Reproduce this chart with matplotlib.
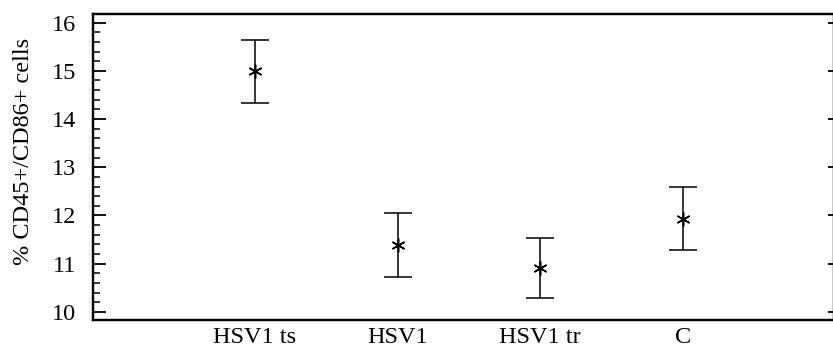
import numpy as np
import matplotlib
matplotlib.use('Agg')
import matplotlib.pyplot as plt
from matplotlib.ticker import MultipleLocator

groups = ['HSV1 ts', 'HSV1', 'HSV1 tr', 'C']
means = [14.99, 11.39, 10.91, 11.93]
errs = [0.65, 0.66, 0.63, 0.65]

plt.rcParams['font.family'] = ['Liberation Serif', 'DejaVu Serif']
plt.rcParams['font.size'] = 17.5

fig = plt.figure(figsize=(8.33, 3.49), dpi=100)
ax = fig.add_axes([0.1116, 0.083, 0.8894, 0.877])

x = np.arange(1, len(groups) + 1)
ax.errorbar(x, means, yerr=errs, fmt='none', ecolor='black',
            elinewidth=1.1, capsize=10.4, capthick=1.1)
ax.plot(x, means, linestyle='none', marker=(6, 2, 0), markersize=10,
        color='black', markeredgewidth=1.1)

ax.set_xlim(-0.137, 5.06)
ax.set_ylim(9.83, 16.18)
ax.set_xticks(x)
ax.set_xticklabels(groups)
ax.tick_params(axis='x', length=0, pad=5)

ax.yaxis.set_major_locator(MultipleLocator(1))
ax.yaxis.set_minor_locator(MultipleLocator(0.2))
ax.tick_params(axis='y', which='major', direction='in', length=9.5, width=1.3,
               left=True, right=False, pad=12)
ax.tick_params(axis='y', which='minor', direction='in', length=5, width=1.1,
               left=True, right=False)

# short major ticks on the right side only
ax2 = ax.twinx()
ax2.set_ylim(ax.get_ylim())
ax2.yaxis.set_major_locator(MultipleLocator(1))
ax2.tick_params(axis='y', which='major', direction='in', length=4, width=1.3,
                labelright=False)

for a in (ax, ax2):
    for s in a.spines.values():
        s.set_linewidth(1.6)

ax.set_ylabel('% CD45+/CD86+ cells')
ax.yaxis.set_label_coords(-0.08, 0.55)

fig.savefig('out.png', dpi=100)
